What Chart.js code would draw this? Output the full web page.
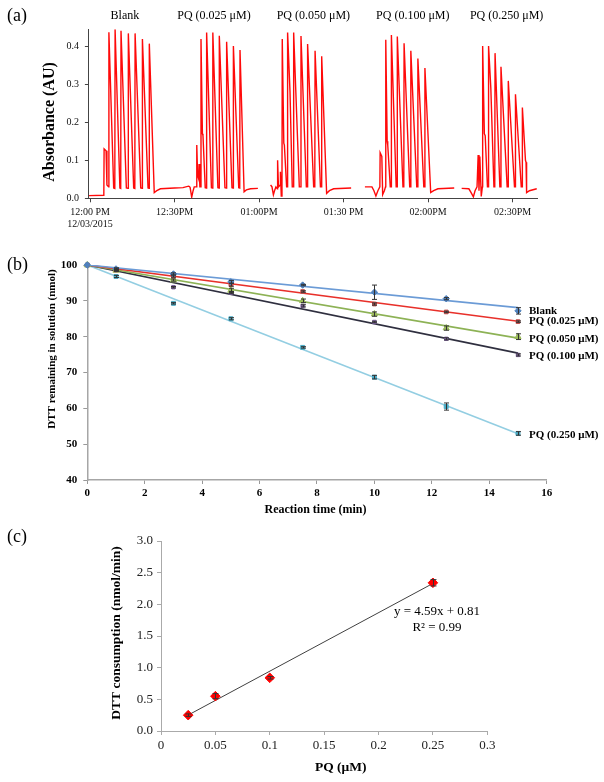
<!DOCTYPE html>
<html>
<head>
<meta charset="utf-8">
<script src="https://cdn.jsdelivr.net/npm/chart.js@4.4.1/dist/chart.umd.min.js"></script>
<style>
html,body{margin:0;padding:0;background:#fff;}
#wrap{position:relative;width:604px;height:782px;overflow:hidden;}
canvas{position:absolute;left:0;}
</style>
</head>
<body>
<div id="wrap">
<canvas id="chartA" width="604" height="240" style="top:0"></canvas>
<canvas id="chartB" width="604" height="280" style="top:240px"></canvas>
<canvas id="chartC" width="604" height="262" style="top:520px"></canvas>
</div>
<script>
const SERIF = '"Liberation Serif", "Times New Roman", serif';

// (a) absorbance trace, minutes after 12:00 PM
const blankMin = [-0.35,4.9,5.0,5.7,6.0,6.6,6.7,8.4,8.8,8.9,10.6,10.9,11.0,12.9,13.5,13.6,15.5,15.9,16.0,18.0,18.5,18.6,20.6,20.95,21.05,22.8,23.7,25.0,30.0,33.0,35.0,35.5];
const blankAbs = [0.007,0.008,0.13,0.125,0.035,0.03,0.437,0.027,0.026,0.445,0.027,0.026,0.441,0.027,0.026,0.434,0.027,0.026,0.434,0.027,0.026,0.419,0.027,0.026,0.407,0.015,0.02,0.025,0.027,0.028,0.032,0.03];
const pq025Min = [35.5,36.1,36.6,37.0,37.8,37.9,38.2,38.6,38.7,39.0,39.3,39.4,39.9,40.1,40.9,41.3,41.4,43.1,43.5,43.6,45.4,45.8,45.9,47.9,48.4,48.5,50.4,50.8,50.9,52.8,53.15,53.25,54.7,55.5,57.0,59.6];
const pq025Abs = [0.03,0.003,0.02,0.03,0.03,0.14,0.06,0.05,0.09,0.03,0.03,0.419,0.17,0.165,0.028,0.027,0.436,0.028,0.027,0.436,0.028,0.027,0.428,0.028,0.027,0.412,0.028,0.027,0.401,0.028,0.027,0.39,0.017,0.022,0.025,0.026];
const pq050Min = [64.1,64.6,65.1,65.5,66.0,66.5,66.6,66.9,67.5,67.6,67.9,68.15,68.25,68.8,69.0,69.8,70.05,70.15,71.0,71.8,72.2,72.3,74.3,74.8,74.9,76.8,77.15,77.25,79.4,79.8,79.9,81.8,82.15,82.25,84.0,85.0,86.5,92.7];
const pq050Abs = [0.035,0.03,0.009,0.02,0.03,0.025,0.10,0.03,0.035,0.07,0.006,0.03,0.419,0.145,0.14,0.03,0.03,0.436,0.28,0.03,0.03,0.436,0.03,0.03,0.427,0.03,0.03,0.406,0.03,0.03,0.388,0.03,0.03,0.374,0.013,0.02,0.025,0.027];
const pq100Min = [97.6,100.1,100.8,101.5,102.2,102.9,103.0,103.6,103.9,104.5,104.9,105.0,105.5,105.7,106.6,106.9,107.0,108.7,109.0,109.1,111.1,111.4,111.5,113.5,113.8,113.9,116.0,116.3,116.4,118.5,118.8,118.9,120.95,122.0,123.5,129.3];
const pq100Abs = [0.03,0.03,0.02,0.006,0.02,0.03,0.12,0.11,0.01,0.02,0.03,0.417,0.15,0.14,0.03,0.03,0.43,0.03,0.03,0.426,0.03,0.03,0.408,0.03,0.03,0.388,0.03,0.03,0.368,0.03,0.03,0.343,0.015,0.02,0.025,0.027];
const pq250Min = [131.95,134.5,135.3,136.1,136.7,137.4,137.8,138.1,138.4,138.9,139.3,139.4,140.0,140.3,141.1,141.4,141.5,142.3,143.4,143.7,143.8,145.5,145.8,145.9,148.1,148.4,148.5,150.7,150.95,151.05,153.1,153.4,153.5,154.6,154.8,155.0,156.0,158.6];
const pq250Abs = [0.026,0.025,0.015,0.004,0.02,0.03,0.114,0.02,0.11,0.005,0.03,0.401,0.17,0.165,0.03,0.03,0.401,0.29,0.03,0.03,0.382,0.03,0.03,0.346,0.03,0.03,0.309,0.03,0.03,0.274,0.03,0.03,0.239,0.10,0.095,0.015,0.02,0.025];
const runLabels = ["Blank","PQ (0.025 μM)","PQ (0.050 μM)","PQ (0.100 μM)","PQ (0.250 μM)"];
const xTicksA = [0,30,60,90,120,150];
const xTickLabelsA = [["12:00 PM","12/03/2015"],"12:30PM","01:00PM","01:30 PM","02:00PM","02:30PM"];
const yTicksA = [0,0.1,0.2,0.3,0.4];

// (b) DTT remaining vs reaction time
const reactionTime = [0,1,3,5,7.5,10,12.5,15];
const seriesNames = ["Blank","PQ (0.025 μM)","PQ (0.050 μM)","PQ (0.100 μM)","PQ (0.250 μM)"];
const dttBlank = [100,98.9,97.5,95.3,94.4,92.4,90.6,87.2];
const dttPq025 = [100,98.6,96.9,94.5,92.6,89.1,86.9,84.2];
const dttPq050 = [100,98.5,95.8,92.9,90.0,86.3,82.4,80.0];
const dttPq100 = [100,98.8,93.8,92.3,88.6,84.1,79.4,74.9];
const dttPq250 = [100,96.8,89.3,85.0,77.0,68.7,60.5,53.0];
const errBlank = [0,0.3,0.3,0.4,0.2,2.0,0.3,0.9];
const errPq025 = [0,0.2,0.3,0.4,0.2,0.3,0.2,0.2];
const errPq050 = [0,0.3,0.3,0.6,0.5,0.6,0.6,0.8];
const errPq100 = [0,0.3,0.2,0.3,0.3,0.2,0.3,0.3];
const errPq250 = [0,0.3,0.2,0.3,0.2,0.5,1.0,0.5];
const fitTime = [0,15];
const fitBlank = [100,88.1];
const fitPq025 = [100,84.3];
const fitPq050 = [100,79.6];
const fitPq100 = [100,75.4];
const fitPq250 = [100,52.9];

// (c) DTT consumption vs PQ
const pqConc = [0.025,0.05,0.1,0.25];
const dttRate = [0.25,0.55,0.84,2.34];
const dttRateErr = [0.02,0.04,0.02,0.05];
const fitConc = [0.027,0.25];
const fitRate = [0.27,2.33];
const fitEquation = "y = 4.59x + 0.81";
const fitR2 = "R² = 0.99";

const pts = (xs, ys) => xs.map((x,i) => ({x, y:ys[i]}));

const errorBars = {
  id:"errorBars",
  afterDatasetsDraw(chart){
    const {ctx, scales:{x,y}} = chart;
    ctx.save();
    ctx.strokeStyle = "#333"; ctx.lineWidth = 1;
    chart.data.datasets.forEach(ds => {
      if(!ds.errors) return;
      ds.data.forEach((p,j) => {
        const e = ds.errors[j]; if(!e) return;
        const px = Math.round(x.getPixelForValue(p.x))+0.5;
        const y1 = y.getPixelForValue(p.y+e), y2 = y.getPixelForValue(p.y-e);
        ctx.beginPath();
        ctx.moveTo(px,y1); ctx.lineTo(px,y2);
        ctx.moveTo(px-ds.cap,y1); ctx.lineTo(px+ds.cap,y1);
        ctx.moveTo(px-ds.cap,y2); ctx.lineTo(px+ds.cap,y2);
        ctx.stroke();
      });
    });
    ctx.restore();
  }
};

function textLayer(items){
  return {
    id:"texts",
    afterDraw(chart){
      const ctx = chart.ctx;
      items.forEach(it => {
        const x = typeof it.x === "function" ? it.x(chart) : it.x;
        const y = typeof it.y === "function" ? it.y(chart) : it.y;
        ctx.save();
        ctx.font = it.font; ctx.fillStyle = it.color || "#000";
        ctx.textAlign = it.align || "center"; ctx.textBaseline = "middle";
        ctx.translate(x,y);
        if(it.rot) ctx.rotate(it.rot);
        ctx.fillText(it.text,0,0);
        ctx.restore();
      });
    }
  };
}

const baseOpts = {responsive:false, animation:false, events:[], plugins:{legend:{display:false}, tooltip:{enabled:false}}};

// ---- (a)
const traces = [[blankMin,blankAbs],[pq025Min,pq025Abs],[pq050Min,pq050Abs],[pq100Min,pq100Abs],[pq250Min,pq250Abs]];
const runCenters = [12.4,44.0,79.3,114.6,147.9];
new Chart(document.getElementById("chartA"), {
  type:"scatter",
  data:{datasets: traces.map(([t,a]) => ({data:pts(t,a), showLine:true, borderColor:"#ff0a0a", borderWidth:1.4, pointRadius:0, tension:0}))},
  options:{...baseOpts,
    layout:{padding:{left:0,right:66.7,top:29.2,bottom:0}},
    scales:{
      x:{type:"linear", min:-0.4, max:158.8,
        afterBuildTicks:s => { s.ticks = xTicksA.map(v => ({value:v})); },
        afterFit:s => { s.height = 41.7; },
        ticks:{callback:(v,i) => xTickLabelsA[i], autoSkip:false, maxRotation:0, padding:4, color:"#111", font:{family:SERIF,size:10}},
        grid:{drawOnChartArea:false, tickLength:4, color:"#444"}, border:{color:"#444",width:1}},
      y:{min:0, max:0.445,
        afterBuildTicks:s => { s.ticks = yTicksA.map(v => ({value:v})); },
        afterFit:s => { s.width = 88.9; },
        ticks:{callback:v => v.toFixed(1), padding:6, color:"#111", font:{family:SERIF,size:10}},
        grid:{drawOnChartArea:false, tickLength:4, color:"#444"}, border:{color:"#444",width:1}}
    }
  },
  plugins:[textLayer([
    {text:"(a)", x:7, y:16, align:"left", font:`18px ${SERIF}`},
    {text:"Absorbance (AU)", x:50, y:122, rot:-Math.PI/2, font:`bold 16px ${SERIF}`},
    ...runLabels.map((t,i) => ({text:t, x:c => c.scales.x.getPixelForValue(runCenters[i]), y:16, font:`12px ${SERIF}`}))
  ])]
});

// ---- (b)
const seriesB = [
  {d:dttBlank, e:errBlank, f:fitBlank, mc:"#4F81BD", lc:"#6B9BD6", ps:"rectRot", r:3.2, dy:0},
  {d:dttPq025, e:errPq025, f:fitPq025, mc:"#C0504D", lc:"#E8302A", ps:"rect", r:2.6, dy:0},
  {d:dttPq050, e:errPq050, f:fitPq050, mc:"#9BBB59", lc:"#8DB255", ps:"triangle", r:3.6, dy:2.5},
  {d:dttPq100, e:errPq100, f:fitPq100, mc:"#8064A2", lc:"#2F2F3F", ps:"rect", r:2.4, dy:1.5},
  {d:dttPq250, e:errPq250, f:fitPq250, mc:"#4BACC6", lc:"#93CEE2", ps:"rect", r:2.8, dy:1.5}
];
const boldB = `bold 11px ${SERIF}`;
new Chart(document.getElementById("chartB"), {
  type:"scatter",
  data:{datasets:[
    ...seriesB.map(s => ({data:pts(reactionTime,s.d), errors:s.e, cap:2.5, pointStyle:s.ps, pointRadius:s.r,
      backgroundColor:s.mc, borderColor:s.mc, borderWidth:1, clip:false})),
    ...seriesB.map(s => ({data:pts(fitTime,s.f), showLine:true, borderColor:s.lc, borderWidth:1.6, pointRadius:0}))
  ]},
  options:{...baseOpts,
    layout:{padding:{left:0,right:57.3,top:25,bottom:0}},
    scales:{
      x:{type:"linear", min:0, max:16, afterFit:s => { s.height = 40; },
        ticks:{stepSize:2, padding:3, color:"#000", font:{family:SERIF,size:11,weight:"bold"}},
        grid:{drawOnChartArea:false, tickLength:4, color:"#999"}, border:{color:"#a6a6a6",width:1.5}},
      y:{min:40, max:100, afterFit:s => { s.width = 87.3; },
        ticks:{stepSize:10, padding:6, color:"#000", font:{family:SERIF,size:11,weight:"bold"}},
        grid:{drawOnChartArea:false, tickLength:4, color:"#999"}, border:{color:"#a6a6a6",width:1.5}}
    }
  },
  plugins:[errorBars, textLayer([
    {text:"(b)", x:7, y:25, align:"left", font:`18px ${SERIF}`},
    {text:"DTT remaining in solution (nmol)", x:52, y:109, rot:-Math.PI/2, font:boldB},
    {text:"Reaction time (min)", x:315.5, y:270, font:`bold 12px ${SERIF}`},
    ...seriesNames.map((t,i) => ({text:t, align:"left", font:boldB,
      x:c => c.scales.x.getPixelForValue(reactionTime[reactionTime.length-1]) + 11,
      y:c => c.scales.y.getPixelForValue(seriesB[i].d[seriesB[i].d.length-1]) + seriesB[i].dy}))
  ])]
});

// ---- (c)
new Chart(document.getElementById("chartC"), {
  type:"scatter",
  data:{datasets:[
    {data:pts(pqConc,dttRate), errors:dttRateErr, cap:3, pointStyle:"rectRot", pointRadius:4.8, backgroundColor:"#ff0000", borderColor:"#ff0000", clip:false},
    {data:pts(fitConc,fitRate), showLine:true, borderColor:"#404040", borderWidth:1, pointRadius:0}
  ]},
  options:{...baseOpts,
    layout:{padding:{left:0,right:116.7,top:21,bottom:0}},
    scales:{
      x:{type:"linear", min:0, max:0.3, afterFit:s => { s.height = 51; },
        ticks:{stepSize:0.05, callback:v => String(+v.toFixed(2)), padding:3, color:"#222", font:{family:SERIF,size:13}},
        grid:{drawOnChartArea:false, tickLength:4, color:"#aaa"}, border:{color:"#aaa",width:1}},
      y:{min:0, max:3, afterFit:s => { s.width = 161; },
        ticks:{stepSize:0.5, callback:v => v.toFixed(1), padding:4, color:"#222", font:{family:SERIF,size:13}},
        grid:{drawOnChartArea:false, tickLength:4, color:"#aaa"}, border:{color:"#aaa",width:1}}
    }
  },
  plugins:[errorBars, textLayer([
    {text:"(c)", x:7, y:17, align:"left", font:`18px ${SERIF}`},
    {text:"DTT consumption (nmol/min)", x:117, y:113, rot:-Math.PI/2, font:`bold 13.5px ${SERIF}`},
    {text:"PQ (μM)", x:340.7, y:247.5, font:`bold 13.5px ${SERIF}`},
    {text:fitEquation, x:437, y:92, font:`13px ${SERIF}`},
    {text:fitR2, x:437, y:107.5, font:`13px ${SERIF}`}
  ])]
});
</script>
</body>
</html>
